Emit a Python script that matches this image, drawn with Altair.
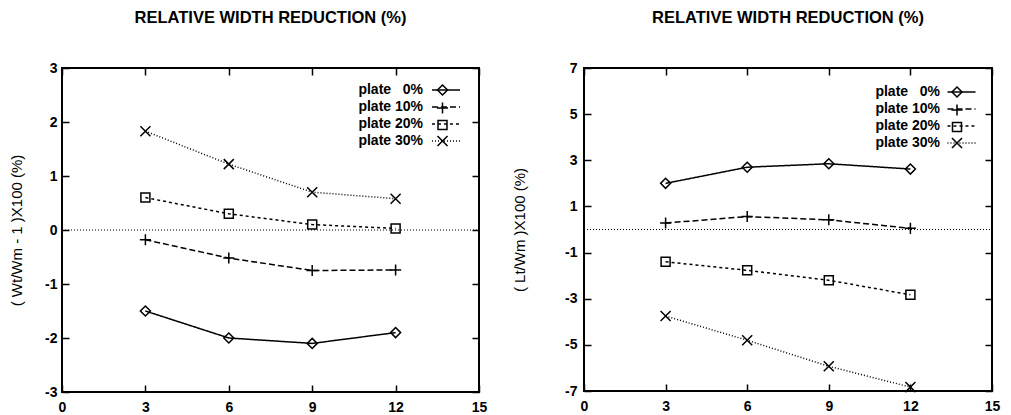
import altair as alt
import pandas as pd

# ---- data ----
x_vals = [3, 6, 9, 12]
series_names = ["plate \u20070%", "plate 10%", "plate 20%", "plate 30%"]
marker_keys = ["m0", "m10", "m20", "m30"]

left_s0 = [-1.5, -2.0, -2.1, -1.9]
left_s10 = [-0.18, -0.52, -0.75, -0.74]
left_s20 = [0.6, 0.3, 0.1, 0.03]
left_s30 = [1.83, 1.22, 0.7, 0.58]

right_s0 = [2.0, 2.7, 2.85, 2.62]
right_s10 = [0.28, 0.56, 0.42, 0.05]
right_s20 = [-1.4, -1.77, -2.2, -2.83]
right_s30 = [-3.75, -4.8, -5.93, -6.83]

x_ticks = [0, 3, 6, 9, 12, 15]
left_y_ticks = [-3, -2, -1, 0, 1, 2, 3]
right_y_ticks = [-7, -5, -3, -1, 1, 3, 5, 7]
zero_line = [0]

title_text = "RELATIVE WIDTH REDUCTION (%)"
left_ytitle = "( Wt/Wm - 1 )X100 (%)"
right_ytitle = "( Lt/Wm )X100 (%)"

FONT = "Liberation Sans"
dash_range = [[1, 0], [6, 3], [3, 3], [1, 2]]
# marker outlines as unit paths
shape_range = [
    "M0,-0.77L0.77,0L0,0.77L-0.77,0Z",
    "M-0.85,0L0.85,0M0,-0.85L0,0.85",
    "M-0.69,-0.69L0.69,-0.69L0.69,0.69L-0.69,0.69Z",
    "M-0.77,-0.77L0.77,0.77M-0.77,0.77L0.77,-0.77",
]
line_sample = "M-2.15,0L2.15,0"
SYM = 170  # symbol box size shared by chart markers and both legends


def make_df(lists):
    rows = []
    for name, key, vals in zip(series_names, marker_keys, lists):
        for xv, yv in zip(x_vals, vals):
            rows.append({"x": xv, "y": yv, "series": name, "marker": key})
    return pd.DataFrame(rows)


def panel(df, y_ticks, ytitle, w, h, title_offset, title_pad, label_pad_y, label_pad_x,
          legA_x, legB_x, leg_y, lab_off):
    xs = alt.Scale(domain=[x_ticks[0], x_ticks[-1]], nice=False, zero=False)
    ys = alt.Scale(domain=[y_ticks[0], y_ticks[-1]], nice=False, zero=False)
    base_ax = dict(domain=False, grid=False, title=None, minExtent=0, maxExtent=400)
    tick_ax = dict(base_ax, labels=False, ticks=True, tickSize=7, tickWidth=1.5, tickColor="black")

    ax_x_lab = alt.Axis(orient="bottom", values=x_ticks, ticks=False, labelPadding=label_pad_x,
                        labelFlush=False, labelFont=FONT, labelFontSize=14, labelFontWeight="bold",
                        labelColor="black", labelExpr="'' + datum.value", **base_ax)
    ax_x_b = alt.Axis(orient="top", offset=-h, values=x_ticks, **tick_ax)
    ax_x_t = alt.Axis(orient="bottom", offset=-h, values=x_ticks, **tick_ax)

    ax_y_lab = alt.Axis(orient="left", values=y_ticks, ticks=False, labelPadding=label_pad_y,
                        labelFont=FONT, labelFontSize=14, labelFontWeight="bold", labelColor="black",
                        labelExpr="'' + datum.value", domain=False, grid=False, minExtent=0,
                        title=ytitle, titleFont=FONT, titleFontSize=15, titleFontWeight="normal",
                        titleColor="black", titlePadding=title_pad)
    ax_y_l = alt.Axis(orient="right", offset=-w, values=y_ticks, **tick_ax)
    ax_y_r = alt.Axis(orient="left", offset=-w, values=y_ticks, **tick_ax)

    zdf = pd.DataFrame({"x0": [x_ticks[0]], "x1": [x_ticks[-1]], "y0": zero_line})
    rule = alt.Chart(zdf).mark_rule(color="black", strokeWidth=1, strokeDash=[1, 2]).encode(
        x=alt.X("x0:Q", scale=xs, axis=ax_x_lab),
        x2="x1:Q",
        y=alt.Y("y0:Q", scale=ys, axis=ax_y_lab),
    )

    common_leg = dict(orient="none", legendY=leg_y, title=None, symbolSize=SYM, symbolStrokeWidth=1.5,
                      symbolStrokeColor="black", labelAlign="right",
                      labelOffset={"expr": str(lab_off)}, labelFont=FONT, labelFontSize=14,
                      labelFontWeight="bold", labelColor="black", padding=0)
    legA = alt.Legend(legendX=legA_x, symbolType=line_sample, rowPadding=2, **common_leg)
    legB = alt.Legend(legendX=legB_x, symbolFillColor="white", labelExpr="' '", rowPadding=0,
                      **common_leg)

    line = alt.Chart(df).mark_line(color="black", strokeWidth=1.5).encode(
        x=alt.X("x:Q", scale=xs, axis=ax_x_b),
        y=alt.Y("y:Q", scale=ys, axis=ax_y_l),
        strokeDash=alt.StrokeDash("series:N", scale=alt.Scale(domain=series_names, range=dash_range),
                                  legend=legA),
    )
    pts = alt.Chart(df).mark_point(color="black", filled=False, size=SYM, strokeWidth=1.5,
                                   opacity=1).encode(
        x=alt.X("x:Q", scale=xs, axis=ax_x_t),
        y=alt.Y("y:Q", scale=ys, axis=ax_y_r),
        shape=alt.Shape("marker:N", scale=alt.Scale(domain=marker_keys, range=shape_range),
                        legend=legB),
    )
    return alt.layer(rule, line, pts).resolve_axis(x="independent", y="independent").properties(
        width=w, height=h,
        title=alt.TitleParams(title_text, font=FONT, fontSize=16.5, fontWeight="bold", color="black",
                              anchor="middle", offset=title_offset),
    )


left = panel(make_df([left_s0, left_s10, left_s20, left_s30]), left_y_ticks, left_ytitle,
             417, 324, 35, 20, 5, 8, 376.5, 373, 14.5, -30.5)
right = panel(make_df([right_s0, right_s10, right_s20, right_s30]), right_y_ticks, right_ytitle,
              408, 323, 35, 37, 7, 8, 370, 365.5, 16.5, -29)

chart = alt.hconcat(left, right, spacing=23).resolve_scale(
    strokeDash="independent", shape="independent"
).resolve_legend(
    strokeDash="independent", shape="independent"
).configure_view(stroke="black", strokeWidth=2).properties(
    padding={"left": 0, "top": 0, "right": 0, "bottom": 0}
)

chart.save("out.html", embed_options={"renderer": "svg", "actions": False})
